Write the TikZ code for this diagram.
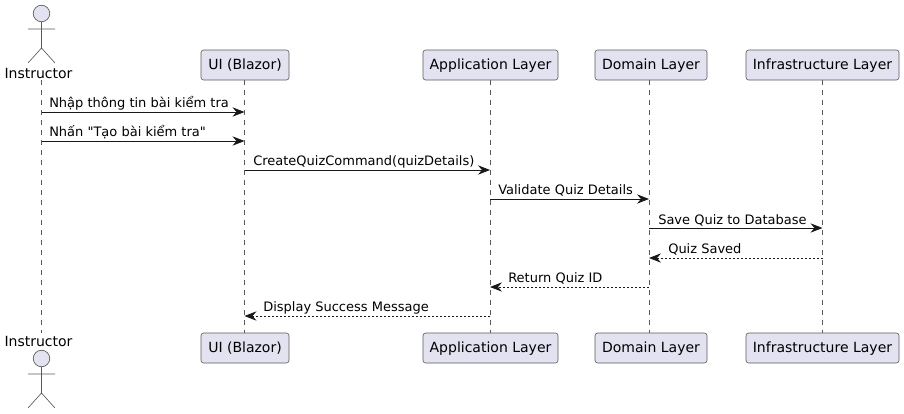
\documentclass[tikz,border=0pt]{standalone}
\usepackage{fontspec}
\setmainfont{DejaVu Sans}[Ligatures=TeXOff]
\usepackage{xcolor}
\usetikzlibrary{arrows.meta}
\definecolor{umlfill}{HTML}{E2E2F0}
\definecolor{umlline}{HTML}{181818}
\definecolor{umlgrey}{HTML}{5A5A5A}

\begin{document}
\begin{tikzpicture}[
  x=0.75pt,y=-0.75pt,
  font=\fontsize{9.75pt}{12pt}\selectfont,
  lane/.style={rounded corners=2pt,draw=umlgrey,fill=umlfill,line width=0.45pt,minimum height=22.5pt,inner xsep=0pt,inner ysep=0pt,text=black,text height=8pt,text depth=1pt,font=\fontsize{10.5pt}{12pt}\selectfont},
  who/.style={anchor=center,inner sep=0pt,font=\fontsize{10.5pt}{12pt}\selectfont},
  head/.style={circle,draw=umlgrey,fill=umlfill,line width=0.5pt,minimum size=12.4pt,inner sep=0pt},
  limb/.style={draw=umlgrey,line width=0.5pt},
  life/.style={draw=umlgrey,line width=0.45pt,dash pattern=on 3.75pt off 3.75pt},
  msg/.style={draw=umlline,line width=0.6pt,-{Stealth[inset=3pt,length=9pt,width=7pt]}},
  ret/.style={msg,dash pattern=on 1.5pt off 1.5pt},
  txt/.style={anchor=base west,inner sep=0pt,text=black},
]
\useasboundingbox (0,0) rectangle (904,414);
% top row
\node[head] (headtop) at (41.5,13.5) {};
\node[who] (instrtop) at (38.5,73.5) {Instructor};
\node[lane,minimum width=66pt] (uitop) at (245,65) {UI (Blazor)};
\node[lane,minimum width=101.25pt] (apptop) at (490.5,65) {Application Layer};
\node[lane,minimum width=84pt] (domtop) at (651,65) {Domain Layer};
\node[lane,minimum width=114.75pt] (inftop) at (822.5,65) {Infrastructure Layer};
% bottom row
\node[head] (headbot) at (41.5,358.5) {};
\node[who] (instrbot) at (38.5,341.5) {Instructor};
\node[lane,minimum width=66pt] (uibot) at (245,348) {UI (Blazor)};
\node[lane,minimum width=101.25pt] (appbot) at (490.5,348) {Application Layer};
\node[lane,minimum width=84pt] (dombot) at (651,348) {Domain Layer};
\node[lane,minimum width=114.75pt] (infbot) at (822.5,348) {Infrastructure Layer};
% actors
\draw[limb] (headtop.south) -- (41.5,48) -- (28,63) (41.5,48) -- (55,63) (28,29) -- (55,29);
\draw[limb] (headbot.south) -- (41.5,393) -- (28,408) (41.5,393) -- (55,408) (28,374) -- (55,374);
% lifelines
\coordinate (instrstart) at (41.5,80);
\coordinate (instrend) at (41.5,333);
\coordinate (uistart) at (244.5,80);
\coordinate (uiend) at (244.5,333);
\coordinate (appstart) at (490,80);
\coordinate (append) at (490,333);
\coordinate (domstart) at (649,80);
\coordinate (domend) at (649,333);
\coordinate (infstart) at (822.5,80);
\coordinate (infend) at (822.5,333);
\draw[life] (instrstart) -- (instrend);
\draw[life] (uistart) -- (uiend);
\draw[life] (appstart) -- (append);
\draw[life] (domstart) -- (domend);
\draw[life] (infstart) -- (infend);
% messages
\coordinate (ia) at (41.5,112); \coordinate (ua) at (244.5,112);
\coordinate (ib) at (41.5,141); \coordinate (ub) at (244.5,141);
\coordinate (uc) at (244.5,170); \coordinate (ac) at (490,170);
\coordinate (ad) at (490,199); \coordinate (dd) at (649,199);
\coordinate (de) at (649,228); \coordinate (ne) at (822.5,228);
\coordinate (nf) at (822.5,258); \coordinate (df) at (649,258);
\coordinate (dg) at (649,287); \coordinate (ag) at (490,287);
\coordinate (ah) at (490,316); \coordinate (uh) at (244.5,316);
\draw[msg] (ia) -- (ua);
\draw[msg] (ib) -- (ub);
\draw[msg] (uc) -- (ac);
\draw[msg] (ad) -- (dd);
\draw[msg] (de) -- (ne);
\draw[ret] (nf) -- (df);
\draw[ret] (dg) -- (ag);
\draw[ret] (ah) -- (uh);
\node[txt] (la) at (49,107) {Nhập thông tin bài kiểm tra};
\node[txt] (lb) at (49,136) {Nhấn "Tạo bài kiểm tra"};
\node[txt] (lc) at (253,165) {CreateQuizCommand(quizDetails)};
\node[txt] (ld) at (498,194) {Validate Quiz Details};
\node[txt] (le) at (658,224) {Save Quiz to Database};
\node[txt] (lf) at (668,253) {Quiz Saved};
\node[txt] (lg) at (508,282) {Return Quiz ID};
\node[txt] (lh) at (263,311) {Display Success Message};
\end{tikzpicture}
\end{document}
